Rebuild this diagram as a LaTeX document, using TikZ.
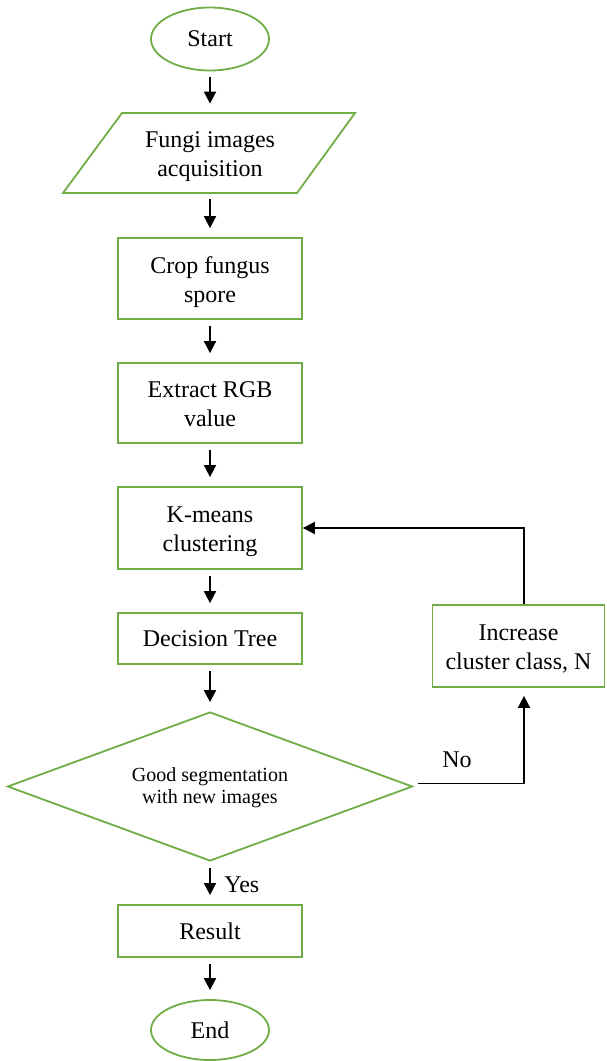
\documentclass[tikz,border=0pt]{standalone}
\usepackage{fontspec}
\setmainfont{Liberation Serif}
\usetikzlibrary{shapes.geometric,arrows.meta}
\definecolor{fgreen}{RGB}{112,173,71}
\begin{document}
\begin{tikzpicture}[x=0.5pt,y=-0.5pt,
  txt/.style={font=\fontsize{12}{14.5}\selectfont,align=center,inner sep=0pt},
  two/.style={text height=23.5pt,text depth=0pt},
  box/.style={txt,draw=fgreen,line width=0.9pt,rectangle,minimum width=92pt},
  term/.style={txt,draw=fgreen,line width=0.9pt,ellipse,minimum width=59pt},
  arr/.style={-{Triangle[length=6pt,width=6pt]},line width=0.9pt,black},
  flow/.style={arr,shorten <=3pt,shorten >=4.5pt},
  lbl/.style={font=\fontsize{12}{14.5}\selectfont,inner sep=0pt}]
\useasboundingbox (0,0) rectangle (606,1061);
\node[term,minimum height=31.5pt] (start) at (210,39) {Start};
\draw[fgreen,line width=0.9pt] (63,193) -- (297,193) -- (355,113) -- (122,113) -- cycle;
\node[txt,two,minimum width=117pt,minimum height=40pt] (acq) at (210,153) {Fungi images\\acquisition};
\node[box,two,minimum height=40.5pt] (crop) at (210,278.5) {Crop fungus\\spore};
\node[box,two,minimum height=40pt] (ext) at (210,403) {Extract RGB\\value};
\node[box,two,minimum height=41pt] (km) at (210,528) {K-means\\clustering};
\node[box,minimum height=25.5pt] (dt) at (210,638.5) {Decision Tree};
\node[diamond,aspect=2.72,draw=fgreen,line width=0.9pt,minimum width=202.5pt,minimum height=74.5pt,inner sep=0pt,align=center,font=\fontsize{10}{11}\selectfont,text height=16.5pt,text depth=0pt] (dia) at (210,786.5) {Good segmentation\\with new images};
\node[box,minimum height=26pt] (res) at (210,931) {Result};
\node[term,minimum height=30pt] (end) at (210,1030) {End};
\node[box,two,minimum width=86pt,minimum height=41pt] (inc) at (518.5,646) {Increase\\cluster class, N};
\node[lbl,anchor=west] (yes) at (224,885) {Yes};
\node[lbl] (no) at (457,760) {No};
\draw[flow] (start) -- (acq);
\draw[flow] (acq) -- (crop);
\draw[flow] (crop) -- (ext);
\draw[flow] (ext) -- (km);
\draw[flow] (km) -- (dt);
\draw[flow] (dt) -- (dia);
\draw[flow] (dia) -- (res);
\draw[flow] (res) -- (end);
\draw[arr,shorten >=4pt] ([xshift=2.5pt,yshift=1.5pt]dia.east) -| ([xshift=2.75pt]inc.south);
\draw[arr] ([xshift=2.75pt]inc.north) |- (km.east);
\end{tikzpicture}
\end{document}
